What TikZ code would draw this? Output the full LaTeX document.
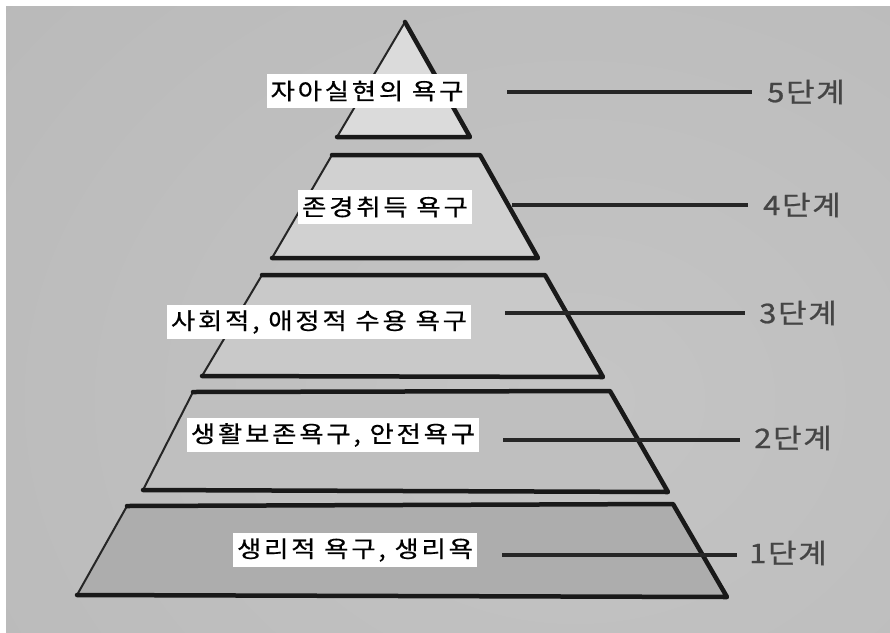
\documentclass[tikz,border=0pt]{standalone}
\usepackage{fontspec}
\newfontfamily\kr{Noto Sans CJK KR}[FakeStretch=1.15, FakeBold=0.6, LetterSpace=12]
\newfontfamily\krs{Noto Sans CJK KR}[FakeStretch=1.15, FakeBold=0.8, LetterSpace=6]
\definecolor{bgin}{gray}{0.77}
\definecolor{bgout}{gray}{0.50}
\definecolor{tfive}{gray}{0.86}
\definecolor{tfour}{gray}{0.82}
\definecolor{tthree}{gray}{0.79}
\definecolor{ttwo}{gray}{0.75}
\definecolor{tone}{gray}{0.68}
\definecolor{stagecol}{gray}{0.27}
\pgfdeclareradialshading{bgshade}{\pgfpoint{0bp}{0bp}}{color(0bp)=(bgin); color(25bp)=(bgin!85!bgout); color(72bp)=(bgout)}
\tikzset{
  need/.style={fill=white, inner xsep=4pt, inner ysep=2pt, minimum height=34pt, font=\kr\fontsize{23}{23}\selectfont, text=black},
  stagelbl/.style={anchor=west, inner sep=0pt, font=\krs\fontsize{27}{27}\selectfont, text=stagecol},
  edgethin/.style={line width=2pt, draw=black!85, line cap=round},
  edgethick/.style={line width=4.5pt, draw=black!90, line join=round, line cap=round},
  conn/.style={line width=4pt, draw=black!85},
}
\begin{document}
\begin{tikzpicture}[x=1pt, y=-1pt]
\useasboundingbox (0,0) rectangle (890,632);
\fill[white] (0,0) rectangle (890,632);
\begin{scope}
\clip (6,6) rectangle (890,632);
\shade[shading=bgshade] (-150,-200) rectangle (1300,1000);
\end{scope}
% tiers
\fill[tfive] (405,22) -- (470,137) -- (337,137) -- cycle;
\draw[edgethin] (337,137) -- (405,22);
\draw[edgethick] (405,22) -- (470,137) -- (337,137);
\fill[tfour] (332,155) -- (480,155) -- (538,258) -- (272,258) -- cycle;
\draw[edgethin] (272,258) -- (332,155);
\draw[edgethick] (332,155) -- (480,155) -- (538,258) -- (272,258);
\fill[tthree] (262,275) -- (545,275) -- (603,377) -- (202,376) -- cycle;
\draw[edgethin] (202,376) -- (262,275);
\draw[edgethick] (262,275) -- (545,275) -- (603,377) -- (202,376);
\fill[ttwo] (193,392) -- (610,391) -- (668,492) -- (143,490) -- cycle;
\draw[edgethin] (143,490) -- (193,392);
\draw[edgethick] (193,392) -- (610,391) -- (668,492) -- (143,490);
\fill[tone] (127,506) -- (673,504) -- (727,597) -- (77,595) -- cycle;
\draw[edgethin] (77,595) -- (127,506);
\draw[edgethick] (127,506) -- (673,504) -- (727,597) -- (77,595);
% labels
\node[need] (n5) at (367,91) {자아실현의 욕구};
\node[need] (n4) at (385,207) {존경취득 욕구};
\node[need] (n3) at (319,322) {사회적, 애정적 수용 욕구};
\node[need] (n2) at (333,435) {생활보존욕구, 안전욕구};
\node[need] (n1) at (355,550) {생리적 욕구, 생리욕};
% stage labels
\node[stagelbl] (s5) at (767,92) {5단계};
\node[stagelbl] (s4) at (763,205) {4단계};
\node[stagelbl] (s3) at (759,313) {3단계};
\node[stagelbl] (s2) at (754,438) {2단계};
\node[stagelbl] (s1) at (749,553) {1단계};
% connectors
\coordinate (c5) at (507,92);
\coordinate (c4) at (512,205);
\coordinate (c3) at (505,313);
\coordinate (c2) at (503,440);
\coordinate (c1) at (502,555);
\draw[conn] (c5) -- ([xshift=-15pt]c5 -| s5.west);
\draw[conn] (c4) -- ([xshift=-15pt]c4 -| s4.west);
\draw[conn] (c3) -- ([xshift=-14pt]c3 -| s3.west);
\draw[conn] (c2) -- ([xshift=-14pt]c2 -| s2.west);
\draw[conn] (c1) -- ([xshift=-12pt]c1 -| s1.west);
\end{tikzpicture}
\end{document}
